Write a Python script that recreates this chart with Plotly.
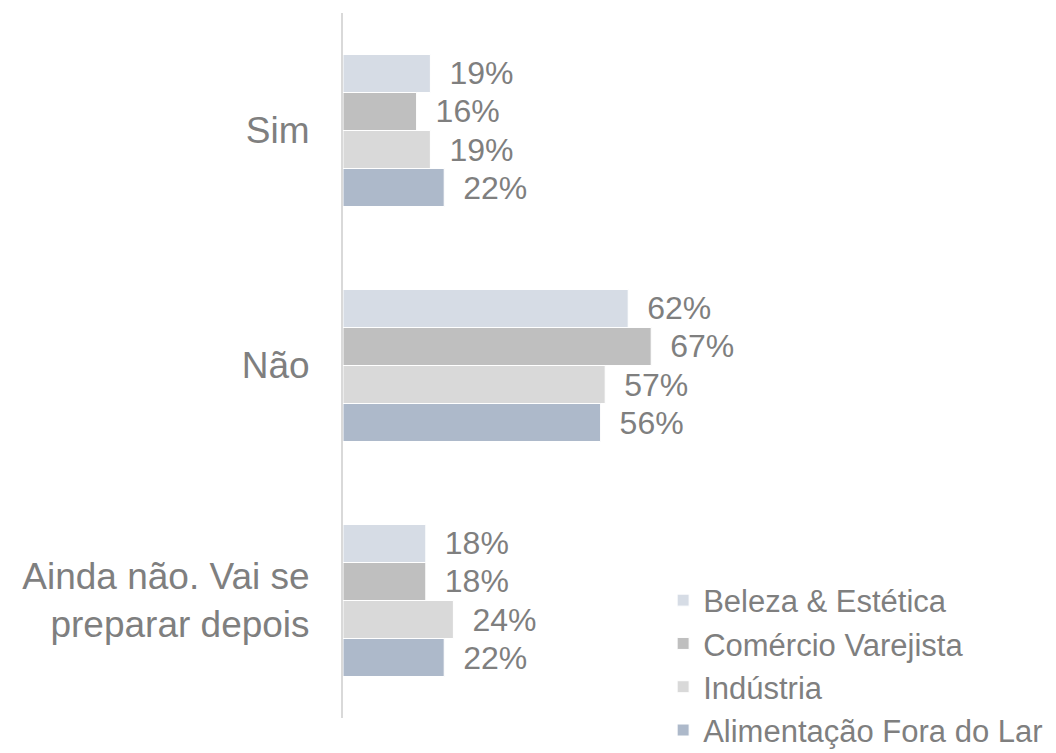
import plotly.graph_objects as go

categories = ["Sim", "Não", "Ainda não. Vai se<br>preparar depois"]
series_names = ["Beleza & Estética", "Comércio Varejista", "Indústria", "Alimentação Fora do Lar"]
beleza = [19, 62, 18]
comercio = [16, 67, 18]
industria = [19, 57, 24]
alimentacao = [22, 56, 22]
values = [beleza, comercio, industria, alimentacao]
colors = ["#d6dce5", "#bfbfbf", "#d9d9d9", "#adb9ca"]

FONT = "Liberation Sans, Arial, sans-serif"
GREY = "#7f7f7f"

fig = go.Figure()
for name, vals, col in zip(series_names, values, colors):
    fig.add_trace(go.Bar(
        y=categories, x=vals, name=name, orientation="h",
        marker=dict(color=col, line=dict(color="white", width=1)),
        text=[f"\u2002{v}%" for v in vals], textposition="outside",
        textfont=dict(size=32, color=GREY, family=FONT),
        cliponaxis=False,
    ))

fig.update_layout(
    width=1048, height=745,
    margin=dict(l=335, r=0, t=5, b=35, autoexpand=False),
    paper_bgcolor="white", plot_bgcolor="white",
    barmode="group", bargap=0.353, bargroupgap=0,
    font=dict(family=FONT, color=GREY),
    showlegend=True,
    legend=dict(x=0.449, y=0.205, xanchor="left", yanchor="top",
                font=dict(size=31, color=GREY, family=FONT),
                itemwidth=30, bgcolor="rgba(0,0,0,0)"),
    xaxis=dict(visible=False, range=[0, 155]),
    yaxis=dict(autorange="reversed", showline=True, linecolor="#d9d9d9", linewidth=2,
               showgrid=False, zeroline=False, ticks="",
               tickfont=dict(size=37, color=GREY, family=FONT),
               ticklabelstandoff=24),
)

fig.write_html("out.html")
